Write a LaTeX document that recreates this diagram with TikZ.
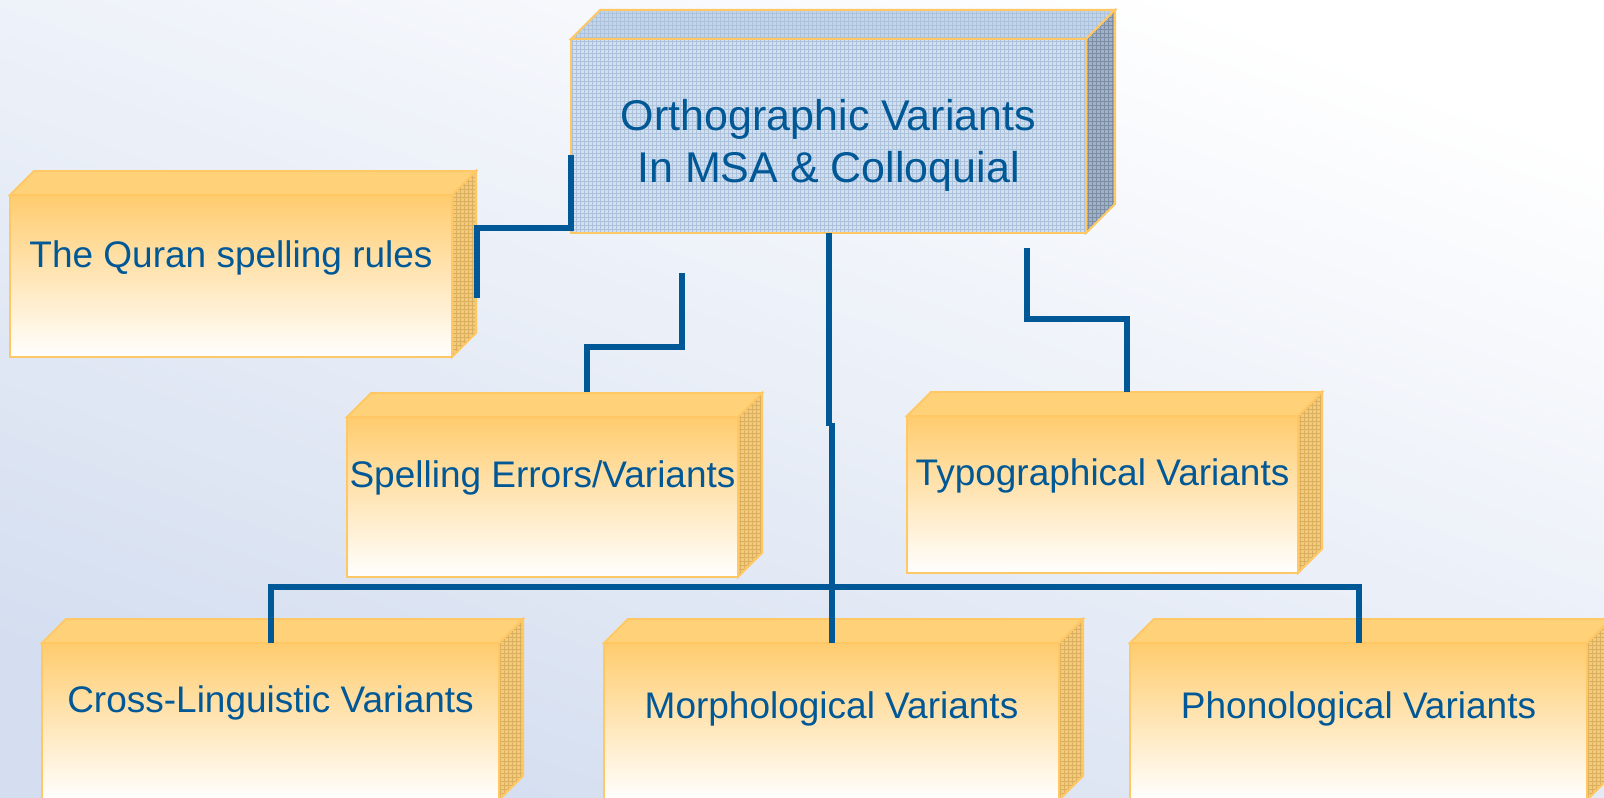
\documentclass[tikz,border=0pt]{standalone}
\usepackage{fontspec}
\setmainfont{Liberation Sans}
\usetikzlibrary{patterns.meta}

\definecolor{txtblue}{RGB}{0,88,150}
\definecolor{boxedge}{RGB}{255,200,100}
\definecolor{boxtop}{RGB}{255,204,110}
\definecolor{boxlid}{RGB}{255,210,122}
\definecolor{boxside}{RGB}{242,202,122}
\definecolor{boxgrid}{RGB}{218,175,95}
\definecolor{mainfront}{RGB}{210,224,238}
\definecolor{mainlid}{RGB}{196,213,232}
\definecolor{mainside}{RGB}{158,178,204}
\definecolor{maingrid}{RGB}{172,194,220}
\definecolor{bgblue}{RGB}{212,222,240}

\begin{document}
\begin{tikzpicture}[x=0.5pt, y=-0.5pt]
    % Styles
    \tikzstyle{leaf} = [rectangle, draw=boxedge, line width=1pt, top color=boxtop, bottom color=white, inner sep=0pt, outer sep=0pt, text=txtblue, font=\fontsize{18.5}{22}\selectfont, text height=14pt, text depth=23.5pt]
    \tikzstyle{root} = [rectangle, draw=boxedge, line width=1pt, preaction={fill=mainfront}, pattern={Hatch[distance=2pt, angle=0, line width=0.3pt]}, pattern color=maingrid, inner sep=0pt, outer sep=0pt, align=center, text=txtblue, font=\fontsize{21.5}{26}\selectfont, text height=50pt, text depth=4pt]
    \tikzstyle{lid} = [fill=boxlid, draw=boxedge, line width=1pt]
    \tikzstyle{side} = [draw=boxedge, line width=1pt, preaction={fill=boxside}, pattern={Hatch[distance=2pt, angle=0, line width=0.3pt]}, pattern color=boxgrid]
    \tikzstyle{link} = [draw=txtblue, line width=3pt]

    % Background
    \useasboundingbox (0,0) rectangle (1604,797);
    \clip (0,0) rectangle (1604,797);
    \shade[top color=white, bottom color=bgblue, shading angle=-20] (0,0) rectangle (1604,797);

    % Nodes
    \node[root, minimum width=257.5pt, minimum height=97pt] (main) at (828.5,136) {Orthographic Variants\\In MSA \& Colloquial};
    \node[leaf, minimum width=221pt, minimum height=81pt, text depth=23pt] (quran) at (231,276) {The Quran spelling rules};
    \node[leaf, minimum width=195.5pt, minimum height=80pt] (spell) at (542.5,497) {Spelling Errors/Variants};
    \node[leaf, minimum width=195.5pt, minimum height=78.5pt] (typo) at (1102.5,494.5) {Typographical Variants};
    \node[leaf, minimum width=228.5pt, minimum height=78.5pt] (cross) at (270.5,721.5) {Cross-Linguistic Variants};
    \node[leaf, minimum width=227.5pt, minimum height=78.5pt, text depth=17.5pt] (morph) at (831.5,721.5) {Morphological Variants};
    \node[leaf, minimum width=228.5pt, minimum height=78.5pt, text depth=17.5pt] (phono) at (1358.5,721.5) {Phonological Variants};

    % 3D faces
    \path[lid, pattern={Hatch[distance=2pt, angle=0, line width=0.3pt]}, pattern color=maingrid, preaction={fill=mainlid}] (main.north west) -- ++(29,-29) -- ([shift={(29,-29)}]main.north east) -- (main.north east) -- cycle;
    \path[side, preaction={fill=mainside}, pattern color=mainside!80!black] (main.north east) -- ++(29,-29) -- ([shift={(29,-29)}]main.south east) -- (main.south east) -- cycle;
    \foreach \n in {quran,spell,typo,cross,morph,phono} {
        \path[lid] (\n.north west) -- ++(24,-24) -- ([shift={(24,-24)}]\n.north east) -- (\n.north east) -- cycle;
        \path[side] (\n.north east) -- ++(24,-24) -- ([shift={(24,-24)}]\n.south east) -- (\n.south east) -- cycle;
    }

    % Connectors
    \coordinate (spellTop) at (682,273);
    \coordinate (typoTop) at (1027,248);
    \draw[link] ([shift={(0,19)}]main.west) |- ([shift={(25,-48)}]quran.east) -- ++(0,70);
    \draw[link] (spellTop) -- ++(0,74) -| ([shift={(44,-25)}]spell.north);
    \draw[link] (typoTop) -- ++(0,71) -| ([shift={(24.5,-24)}]typo.north);
    \draw[link] (main.south) -- ++(0,193);
    \draw[link] (morph.north) -- ++(0,-220);
    \draw[link] (cross.north) -- ++(0,-56) -| (phono.north);

\end{tikzpicture}
\end{document}
